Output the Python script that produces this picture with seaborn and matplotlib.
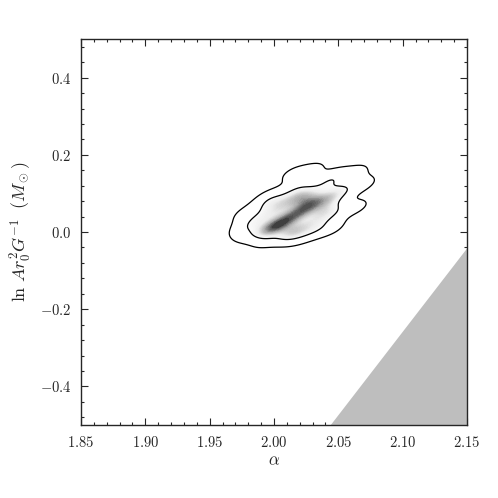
import numpy as np
import pandas as pd
import matplotlib
matplotlib.use("Agg")
import matplotlib.pyplot as plt
from matplotlib.ticker import MultipleLocator, AutoMinorLocator, FuncFormatter
from matplotlib.colors import LinearSegmentedColormap
import seaborn as sns

sns.set_style("ticks")
plt.rcParams['font.family'] = 'serif'
plt.rcParams['font.serif'] = ['cmr10', 'DejaVu Serif']
plt.rcParams['mathtext.fontset'] = 'cm'
plt.rcParams['axes.formatter.use_mathtext'] = True

# posterior samples (alpha, ln A r0^2 G^-1) with weights
alpha = [2.002, 2.010, 2.018, 2.026, 2.034, 2.016, 1.998,
         1.986, 1.993, 2.012, 2.032, 2.045, 2.053, 2.042, 2.018, 1.997,
         2.040, 2.045, 2.025, 2.030, 2.000, 2.008, 2.020,
         1.976, 1.978, 1.996, 2.015, 2.030, 2.048, 2.064, 2.070, 2.064, 2.045, 2.020, 1.995, 1.980]
lnA = [0.015, 0.032, 0.048, 0.064, 0.082, 0.005, 0.012,
       0.030, 0.003, -0.005, 0.008, 0.050, 0.108, 0.128, 0.110, 0.075,
       0.060, 0.090, 0.095, 0.030, 0.050, 0.075, 0.085,
       0.010, 0.048, 0.090, 0.150, 0.160, 0.145, 0.155, 0.125, 0.065, 0.012, -0.012, -0.020, -0.005]
weight = [4, 4, 4, 4, 4, 3, 2,
          3, 3, 3, 3, 3, 3, 3, 3, 3,
          3, 3, 3, 3, 3, 3, 3,
          1.5, 1.5, 1.5, 1.5, 1.5, 1.5, 1.5, 1.5, 1.5, 1.5, 1.5, 1.5, 1.5]

# excluded region (lower right)
bound_alpha = [2.0435, 2.15]
bound_lnA = [-0.5, -0.04]

df = pd.DataFrame({'alpha': alpha, 'lnA': lnA, 'w': weight})

shade = LinearSegmentedColormap.from_list('shade', ['#ffffff', '#ececec', '#a8a8a8', '#333333'])

fig = plt.figure(figsize=(4.98, 4.98), dpi=100)
ax = fig.add_axes([0.1627, 0.1466, 0.775, 0.775])

sns.kdeplot(data=df, x='alpha', y='lnA', weights='w', fill=True, cmap=shade,
            levels=40, thresh=0.3, bw_adjust=0.7, gridsize=200, ax=ax)
sns.kdeplot(data=df, x='alpha', y='lnA', weights='w', levels=[0.05, 0.32],
            colors='black', linewidths=0.9, bw_adjust=0.7, gridsize=200, ax=ax)

ax.fill_between(bound_alpha, bound_lnA, -0.5, color='#bebebe', lw=0, zorder=3)

ax.set_xlim(1.85, 2.15)
ax.set_ylim(-0.5, 0.5)
ax.xaxis.set_major_locator(MultipleLocator(0.05))
ax.yaxis.set_major_locator(MultipleLocator(0.2))
ax.xaxis.set_minor_locator(AutoMinorLocator(5))
ax.yaxis.set_minor_locator(AutoMinorLocator(5))
ax.xaxis.set_major_formatter(FuncFormatter(lambda v, p: f'${v:.2f}$'))
ax.yaxis.set_major_formatter(FuncFormatter(lambda v, p: f'${v:.1f}$'.replace('$-0.0$', '$0.0$')))
ax.tick_params(which='both', direction='in', top=True, right=True, labelsize=10.5, width=0.8)
ax.tick_params(which='major', length=5, pad=7)
ax.tick_params(which='minor', length=2.5)
for s in ax.spines.values():
    s.set_linewidth(1.0)
    s.set_zorder(5)

ax.set_xlabel(r'$\alpha$', fontsize=12, labelpad=2)
ax.set_ylabel(r'$\ln\,A r_0^2 G^{-1}\;\;(M_\odot)$', fontsize=13, labelpad=4)

fig.savefig('out.png', dpi=100)
